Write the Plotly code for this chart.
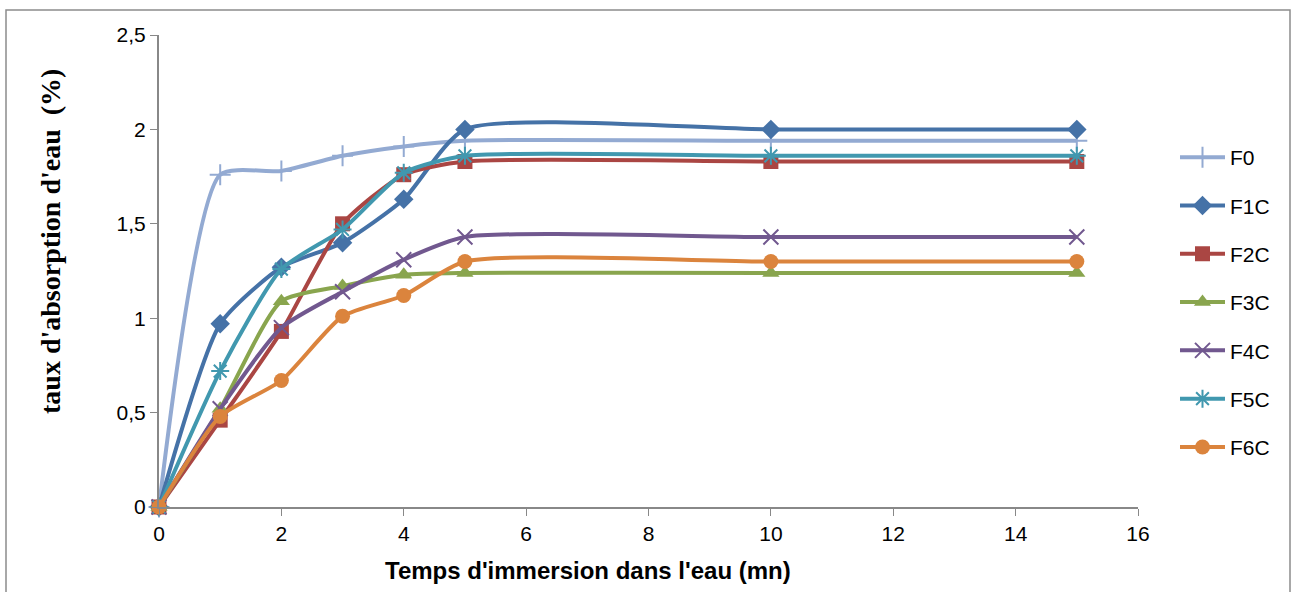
import plotly.graph_objects as go

x = [0, 1, 2, 3, 4, 5, 10, 15]
F0 = [0, 1.76, 1.78, 1.86, 1.91, 1.94, 1.94, 1.94]
F1C = [0, 0.97, 1.27, 1.40, 1.63, 2.00, 2.00, 2.00]
F2C = [0, 0.46, 0.93, 1.50, 1.76, 1.83, 1.83, 1.83]
F3C = [0, 0.52, 1.09, 1.17, 1.23, 1.24, 1.24, 1.24]
F4C = [0, 0.52, 0.95, 1.14, 1.31, 1.43, 1.43, 1.43]
F5C = [0, 0.72, 1.26, 1.47, 1.77, 1.86, 1.86, 1.86]
F6C = [0, 0.48, 0.67, 1.01, 1.12, 1.30, 1.30, 1.30]

x_title = "Temps d'immersion dans l'eau (mn)"
y_title = "taux d'absorption d'eau  (%)"

series = [
    ("F0", F0, "#93AAD2", "cross-thin", 15),
    ("F1C", F1C, "#4572A7", "diamond", 15),
    ("F2C", F2C, "#AA4643", "square", 15),
    ("F3C", F3C, "#89A54E", "triangle-up", 15),
    ("F4C", F4C, "#71588F", "x-thin", 15),
    ("F5C", F5C, "#4198AF", "asterisk", 15),
    ("F6C", F6C, "#DB843D", "circle", 15),
]

fig = go.Figure()
for i, (name, ys, col, sym, sz) in enumerate(series):
    thin = sym in ("cross-thin", "x-thin", "asterisk")
    fig.add_trace(go.Scatter(
        x=x, y=ys, name=name, mode="lines+markers",
        line=dict(color=col, width=4, shape="spline", smoothing=0.6),
        marker=dict(symbol=sym, size=sz, color=col,
                    line=dict(color=col, width=2 if thin else 0)),
        legendgroup=name, cliponaxis=False,
    ))

L, R, T, B = 159, 1138, 35, 507
W, H = R - L, B - T

def px_x(p):
    return (p - L) / W

def px_y(p):
    return (B - p) / H

fig.update_layout(
    width=1295, height=592,
    margin=dict(l=L, r=1295 - R, t=T, b=592 - B),
    paper_bgcolor="white", plot_bgcolor="white",
    separators=", ",
    showlegend=True,
    legend=dict(x=px_x(1175), y=px_y(137), xanchor="left", yanchor="top",
                font=dict(family="Liberation Sans", size=21, color="black"),
                tracegroupgap=18, itemwidth=45, bgcolor="rgba(0,0,0,0)"),
    xaxis=dict(range=[0, 16], dtick=2, tick0=0, showgrid=False, zeroline=False,
               showline=True, linecolor="#888888", linewidth=2,
               ticks="outside", ticklen=7, tickcolor="#888888",
               tickfont=dict(family="Liberation Sans", size=21, color="black")),
    yaxis=dict(range=[0, 2.5], dtick=0.5, tick0=0, showgrid=False, zeroline=False,
               showline=True, linecolor="#888888", linewidth=2,
               ticks="outside", ticklen=7, tickcolor="#888888",
               tickfont=dict(family="Liberation Sans", size=21, color="black")),
    annotations=[
        dict(text="<b>" + x_title + "</b>", xref="paper", yref="paper",
             x=px_x(588), y=px_y(570), xanchor="center", yanchor="middle",
             showarrow=False,
             font=dict(family="Liberation Sans", size=24, color="black")),
        dict(text="<b>" + y_title + "</b>", xref="paper", yref="paper",
             x=px_x(50), y=px_y(242), xanchor="center", yanchor="middle",
             textangle=-90, showarrow=False,
             font=dict(family="Liberation Serif", size=28, color="black")),
    ],
)

fig.add_shape(type="rect", xref="paper", yref="paper",
              x0=px_x(6), x1=px_x(1290),
              y0=px_y(600), y1=px_y(10),
              line=dict(color="#8C8C8C", width=1.5), layer="below")

fig.write_html("out.html")
